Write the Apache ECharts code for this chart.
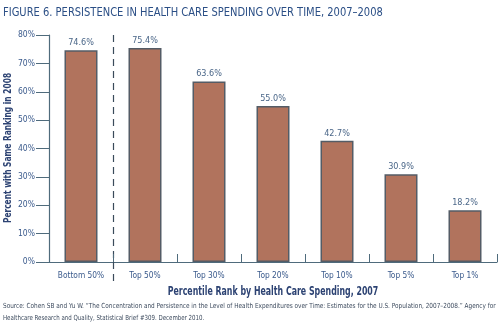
<!DOCTYPE html>
<html><head><meta charset="utf-8">
<script src="https://cdn.jsdelivr.net/npm/echarts@6/dist/echarts.min.js"></script>
<style>html,body{margin:0;padding:0;background:#fff}#c{width:500px;height:334px}</style>
</head><body><div id="c"></div>
<script>
const categories = ['Bottom 50%', 'Top 50%', 'Top 30%', 'Top 20%', 'Top 10%', 'Top 5%', 'Top 1%'];
const values = [74.6, 75.4, 63.6, 55.0, 42.7, 30.9, 18.2];
const yTicks = [0, 10, 20, 30, 40, 50, 60, 70, 80];
const separatorAfter = [1];
const titleText = 'FIGURE 6. PERSISTENCE IN HEALTH CARE SPENDING OVER TIME, 2007\u20132008';
const yName = 'Percent with Same Ranking in 2008';
const xName = 'Percentile Rank by Health Care Spending, 2007';
const source1 = 'Source: Cohen SB and Yu W. \u201cThe Concentration and Persistence in the Level of Health Expenditures over Time: Estimates for the U.S. Population, 2007\u20132008.\u201d Agency for';
const source2 = 'Healthcare Research and Quality, Statistical Brief #309. December 2010.';

const fam = '"DejaVu Sans Condensed",sans-serif';
const axisCol = '#4f6b7c';
const chart = echarts.init(document.getElementById('c'), null, {renderer: 'canvas'});
chart.setOption({
  animation: false,
  graphic: [
    {type: 'text', x: 3, y: 6, scaleX: 0.85, style: {text: titleText, font: '13px ' + fam, fill: '#2b4f86'}},
    {type: 'text', x: 8, y: 148, rotation: Math.PI / 2, scaleX: 0.83, style: {text: yName, font: 'bold 10px ' + fam, fill: '#2d4373', align: 'center', verticalAlign: 'middle'}},
    {type: 'text', x: 273, y: 292, scaleX: 0.76, style: {text: xName, font: 'bold 11.5px ' + fam, fill: '#2d4373', align: 'center', verticalAlign: 'middle'}},
    {type: 'text', x: 3, y: 303, scaleX: 0.915, style: {text: source1, font: '7px ' + fam, fill: '#3d4b5e'}},
    {type: 'text', x: 3, y: 315, scaleX: 0.87, style: {text: source2, font: '7px ' + fam, fill: '#3d4b5e'}}
  ],
  grid: {left: 49, right: 3, top: 35, bottom: 72},
  xAxis: [{
    type: 'category', data: categories, boundaryGap: true,
    axisLine: {lineStyle: {color: axisCol, width: 1.2}},
    axisTick: {show: true, inside: true, length: 8, interval: 0, lineStyle: {color: axisCol}},
    axisLabel: {interval: 0, color: '#3a5a8c', fontSize: 8.3, margin: 10, fontFamily: fam},
    splitLine: {show: false}
  }, {
    type: 'value', min: 0, max: categories.length, position: 'bottom',
    axisLine: {show: false}, axisLabel: {show: false},
    axisTick: {show: true, inside: false, length: 21, customValues: separatorAfter, lineStyle: {color: '#3a4a5a', width: 1.2, type: [7, 5]}},
    splitLine: {show: true, lineStyle: {color: '#3a4a5a', type: [7, 5], width: 1.2}}
  }],
  yAxis: {
    type: 'value', min: yTicks[0], max: yTicks[yTicks.length - 1], interval: 10,
    axisLine: {show: true, lineStyle: {color: axisCol, width: 1.2}},
    axisTick: {show: true, length: 13, lineStyle: {color: axisCol}},
    splitLine: {show: false},
    axisLabel: {formatter: '{value}%', color: '#3a5a8c', fontSize: 8.5, margin: 14, fontFamily: fam}
  },
  series: [{
    type: 'bar', data: values, barWidth: 33, xAxisIndex: 0,
    itemStyle: {color: '#b1735d', borderColor: '#545c66', borderWidth: 1.5},
    label: {show: true, position: 'top', distance: 3, formatter: function (p) { return p.value.toFixed(1) + '%'; }, color: '#4a6688', fontSize: 9, fontFamily: fam}
  }]
});
</script></body></html>
